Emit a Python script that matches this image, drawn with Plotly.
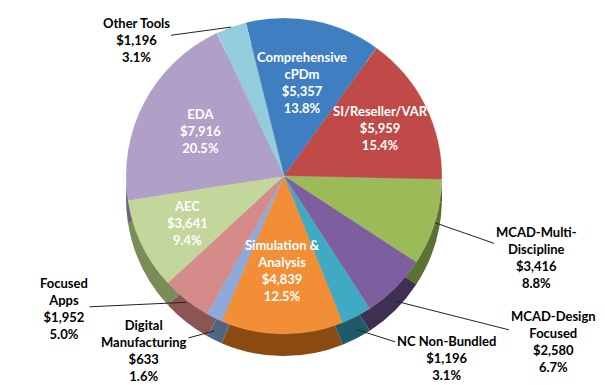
import math
import plotly.graph_objects as go

categories = ["Comprehensive cPDm", "SI/Reseller/VAR", "MCAD-Multi-Discipline",
              "MCAD-Design Focused", "NC Non-Bundled", "Simulation & Analysis",
              "Digital Manufacturing", "Focused Apps", "AEC", "EDA", "Other Tools"]
label_text = ["Comprehensive<br>cPDm", "SI/Reseller/VAR", "MCAD-Multi-<br>Discipline",
              "MCAD-Design<br>Focused", "NC Non-Bundled", "Simulation &<br>Analysis",
              "Digital<br>Manufacturing", "Focused<br>Apps", "AEC", "EDA", "Other Tools"]
values = [5357, 5959, 3416, 2580, 1196, 4839, 633, 1952, 3641, 7916, 1196]
percents = ["13.8%", "15.4%", "8.8%", "6.7%", "3.1%", "12.5%", "1.6%", "5.0%", "9.4%", "20.5%", "3.1%"]
colors = ["#3F7FC1", "#BF4A47", "#9BBB59", "#7D5FA0", "#40A9C4", "#F28E35",
          "#8FAAD8", "#D48B89", "#C3D69B", "#B0A0C8", "#93CDDD"]
side_colors = ["#264D75", "#73302E", "#5C7232", "#3F2F52", "#1F5A6A", "#8A4A12",
               "#4F6584", "#8A5553", "#7A8C58", "#6E6080", "#5A8A96"]
inside = [True, True, False, False, False, True, False, False, True, True, False]

W, H = 605, 385
cx, cy, R = 276, 168, 158
depth = 22
rotation = -14

# inside label radial position (fraction of radius)
inside_r = {0: 0.6, 1: 0.68, 5: 0.6, 8: 0.68, 9: 0.6}
# outside label text centres (pixels) and how far down the side the leader ends
outside_pos = {2: (528, 250), 3: (545, 333), 4: (438, 350), 6: (136, 342), 7: (56, 300), 10: (128, 32)}
leader_drop = {2: 0.0, 3: 0.6, 4: 0.6, 6: 0.6, 7: 0.1, 10: 0.0}

FONT = "Lato, 'Open Sans', sans-serif"


def dom(cyy):
    return dict(x=[(cx - R) / W, (cx + R) / W], y=[1 - (cyy + R) / H, 1 - (cyy - R) / H])


fig = go.Figure()
# side (depth) of the 3-D pie
fig.add_trace(go.Pie(
    labels=categories, values=values, sort=False, direction="clockwise",
    rotation=rotation, textinfo="none", hoverinfo="skip",
    marker=dict(colors=side_colors, line=dict(width=0)),
    domain=dom(cy + depth), showlegend=False,
))
# top face
fig.add_trace(go.Pie(
    labels=categories, values=values, sort=False, direction="clockwise",
    rotation=rotation, textinfo="none", hoverinfo="label+value+percent",
    marker=dict(colors=colors, line=dict(color="rgba(255,255,255,0.25)", width=0.5)),
    domain=dom(cy), showlegend=False,
))

total = sum(values)
cum = 0
annotations = []
for i, v in enumerate(values):
    mid = (cum + v / 2) / total * 360 + rotation
    cum += v
    a = math.radians(mid)
    txt = f"<b>{label_text[i]}<br>${v:,}<br>{percents[i]}</b>"
    if inside[i]:
        f = inside_r[i]
        px = cx + f * R * math.sin(a)
        py = cy - f * R * math.cos(a)
        annotations.append(dict(x=px / W, y=1 - py / H, xref="paper", yref="paper",
                                xanchor="center", yanchor="middle",
                                text=txt, showarrow=False, align="center",
                                font=dict(family=FONT, size=13, color="white")))
    else:
        tx = cx + R * math.sin(a)
        ty = cy - R * math.cos(a) + depth * leader_drop[i]
        lx, ly = outside_pos[i]
        annotations.append(dict(x=tx / W, y=1 - ty / H, xref="paper", yref="paper",
                                ax=lx - tx, ay=ly - ty, axref="pixel", ayref="pixel",
                                xanchor="center", yanchor="middle",
                                text=txt, showarrow=True, arrowhead=0, arrowwidth=1,
                                arrowcolor="#222222", align="center", standoff=0,
                                font=dict(family=FONT, size=13, color="black")))

fig.update_layout(width=W, height=H, margin=dict(l=0, r=0, t=0, b=0),
                  paper_bgcolor="white", plot_bgcolor="white",
                  annotations=annotations)
fig.write_html("out.html")
